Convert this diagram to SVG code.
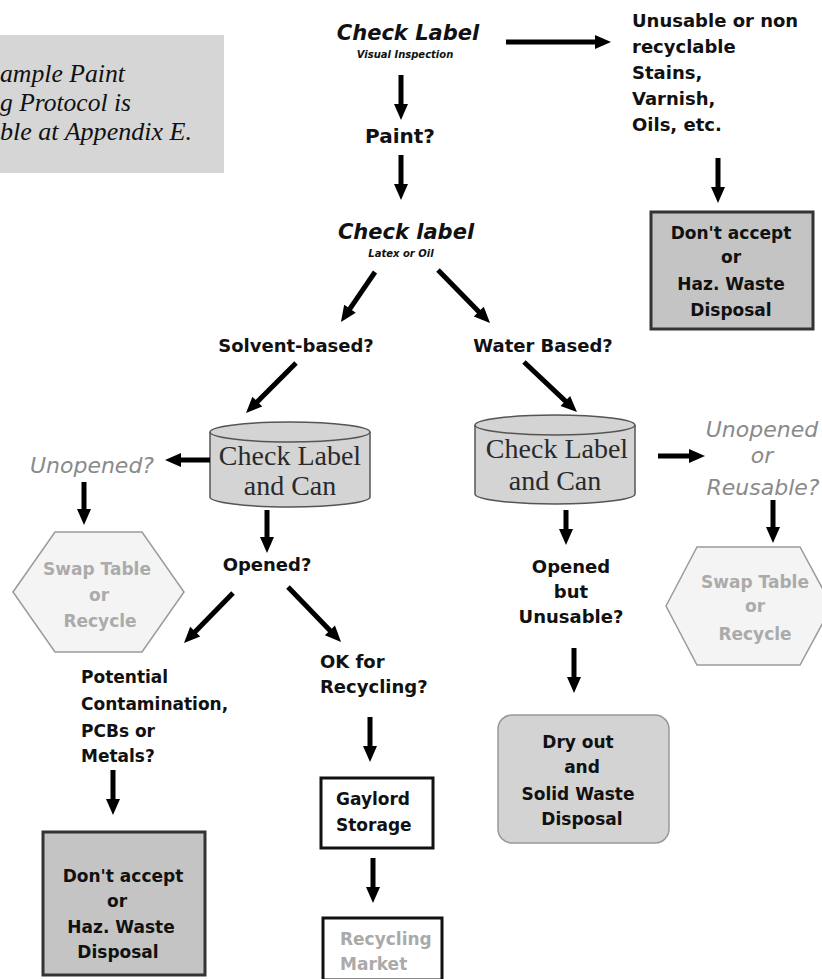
<svg xmlns="http://www.w3.org/2000/svg" width="822" height="979" viewBox="0 0 822 979">
<defs>
<marker id="ah" markerUnits="userSpaceOnUse" markerWidth="16" markerHeight="14" refX="6" refY="7" orient="auto" overflow="visible">
<path d="M0,0 L16,7 L0,14 z" fill="#000"/>
</marker>
<style>
.lbl{font-family:"DejaVu Sans","Liberation Sans",sans-serif;font-weight:bold;fill:#111;}
.it{font-style:italic;}
.c{text-anchor:middle;}
.gry{font-family:"DejaVu Sans","Liberation Sans",sans-serif;font-style:italic;fill:#8a8a8a;font-size:22px;}
.ser{font-family:"Liberation Serif","Times New Roman",serif;font-size:28px;fill:#2a2a2a;text-anchor:middle;}
.note{font-family:"Liberation Serif","Times New Roman",serif;font-style:italic;font-size:25px;fill:#111;}
.conn line{stroke:#000;stroke-width:5;marker-end:url(#ah);}
.haz{fill:#c4c4c4;stroke:#333;stroke-width:3;}
.hex{fill:#f4f4f4;stroke:#9a9a9a;stroke-width:1.5;}
.hext{font-family:"DejaVu Sans","Liberation Sans",sans-serif;font-weight:bold;fill:#ababab;font-size:17px;text-anchor:middle;}
.cyl{fill:#d4d4d4;stroke:#555;stroke-width:1.5;}
</style>
</defs>
<rect width="822" height="979" fill="#fff"/>

<g id="note">
<rect x="0" y="35" width="224" height="138" fill="#d6d6d6"/>
<text class="note" x="0" y="82" textLength="125" lengthAdjust="spacingAndGlyphs">ample Paint</text>
<text class="note" x="0" y="111" textLength="131" lengthAdjust="spacingAndGlyphs">g Protocol is</text>
<text class="note" x="0" y="140" textLength="192" lengthAdjust="spacingAndGlyphs">ble at Appendix E.</text>
</g>

<g id="check-label-visual">
<text class="lbl it c" x="408" y="40" font-size="21">Check Label</text>
<text class="lbl it c" x="405" y="58" font-size="10">Visual Inspection</text>
</g>

<g id="unusable">
<text class="lbl" x="632" y="27" font-size="18">Unusable or non</text>
<text class="lbl" x="632" y="53" font-size="18">recyclable</text>
<text class="lbl" x="632" y="79" font-size="18">Stains,</text>
<text class="lbl" x="632" y="105" font-size="18">Varnish,</text>
<text class="lbl" x="632" y="131" font-size="18">Oils, etc.</text>
</g>

<g id="haz-top">
<rect class="haz" x="651" y="212" width="162" height="117"/>
<text class="lbl c" x="731" y="239" font-size="17">Don't accept</text>
<text class="lbl c" x="731" y="263" font-size="17">or</text>
<text class="lbl c" x="731" y="290" font-size="17">Haz. Waste</text>
<text class="lbl c" x="731" y="316" font-size="17">Disposal</text>
</g>

<g id="paint">
<text class="lbl c" x="400" y="143" font-size="20">Paint?</text>
</g>

<g id="check-label-latex">
<text class="lbl it c" x="406" y="239" font-size="21">Check label</text>
<text class="lbl it c" x="401" y="257" font-size="10">Latex or Oil</text>
</g>

<g id="solvent">
<text class="lbl c" x="296" y="352" font-size="18">Solvent-based?</text>
</g>
<g id="water">
<text class="lbl c" x="543" y="352" font-size="18">Water Based?</text>
</g>

<g id="cyl-left">
<path class="cyl" d="M210,432 L210,497 A80,10 0 0 0 370,497 L370,432"/>
<ellipse class="cyl" cx="290" cy="432" rx="80" ry="10"/>
<text class="ser" x="290" y="465">Check Label</text>
<text class="ser" x="290" y="495">and Can</text>
</g>

<g id="cyl-right">
<path class="cyl" d="M475,425 L475,494 A80,10 0 0 0 635,494 L635,425"/>
<ellipse class="cyl" cx="555" cy="425" rx="80" ry="10"/>
<text class="ser" x="557" y="458">Check Label</text>
<text class="ser" x="555" y="490">and Can</text>
</g>

<g id="unopened-left">
<text class="gry c" x="92" y="473">Unopened?</text>
</g>

<g id="swap-left">
<polygon class="hex" points="13,592 55,532 142,532 184,592 142,652 55,652"/>
<text class="hext" x="97" y="575">Swap Table</text>
<text class="hext" x="99" y="601">or</text>
<text class="hext" x="100" y="627">Recycle</text>
</g>

<g id="opened">
<text class="lbl c" x="267" y="571" font-size="18">Opened?</text>
</g>

<g id="unopened-right">
<text class="gry c" x="762" y="437">Unopened</text>
<text class="gry c" x="762" y="463">or</text>
<text class="gry c" x="763" y="495">Reusable?</text>
</g>

<g id="swap-right">
<polygon class="hex" points="666,606 697,547 800,547 832,606 800,665 697,665"/>
<text class="hext" x="755" y="588">Swap Table</text>
<text class="hext" x="755" y="612">or</text>
<text class="hext" x="755" y="640">Recycle</text>
</g>

<g id="opened-unusable">
<text class="lbl c" x="571" y="573" font-size="18">Opened</text>
<text class="lbl c" x="571" y="598" font-size="18">but</text>
<text class="lbl c" x="571" y="623" font-size="18">Unusable?</text>
</g>

<g id="potential">
<text class="lbl" x="81" y="683" font-size="17">Potential</text>
<text class="lbl" x="81" y="710" font-size="17">Contamination,</text>
<text class="lbl" x="81" y="737" font-size="17">PCBs or</text>
<text class="lbl" x="81" y="762" font-size="17">Metals?</text>
</g>

<g id="ok-recycling">
<text class="lbl" x="320" y="668" font-size="18">OK for</text>
<text class="lbl" x="320" y="693" font-size="18">Recycling?</text>
</g>

<g id="haz-bottom">
<rect class="haz" x="43" y="832" width="162" height="143"/>
<text class="lbl c" x="123" y="882" font-size="17">Don't accept</text>
<text class="lbl c" x="117" y="907" font-size="17">or</text>
<text class="lbl c" x="121" y="933" font-size="17">Haz. Waste</text>
<text class="lbl c" x="118" y="958" font-size="17">Disposal</text>
</g>

<g id="gaylord">
<rect x="321" y="778" width="112" height="70" fill="#fff" stroke="#111" stroke-width="3"/>
<text class="lbl" x="336" y="805" font-size="17">Gaylord</text>
<text class="lbl" x="336" y="831" font-size="17">Storage</text>
</g>

<g id="market">
<rect x="323" y="918" width="119" height="62" fill="#fff" stroke="#111" stroke-width="3"/>
<text class="lbl" x="340" y="945" font-size="17" style="fill:#aaa">Recycling</text>
<text class="lbl" x="340" y="970" font-size="17" style="fill:#aaa">Market</text>
</g>

<g id="dry-out">
<rect x="498" y="715" width="171" height="128" rx="14" fill="#d3d3d3" stroke="#999" stroke-width="1.5"/>
<text class="lbl c" x="578" y="748" font-size="17">Dry out</text>
<text class="lbl c" x="582" y="773" font-size="17">and</text>
<text class="lbl c" x="578" y="800" font-size="17">Solid Waste</text>
<text class="lbl c" x="582" y="825" font-size="17">Disposal</text>
</g>

<g id="connectors" class="conn">
<line x1="401" y1="75" x2="401" y2="110"/>
<line x1="401" y1="155" x2="401" y2="190"/>
<line x1="375" y1="272" x2="346.6" y2="313.7"/>
<line x1="438" y1="270" x2="483" y2="315.9"/>
<line x1="506" y1="42" x2="601" y2="42"/>
<line x1="718" y1="158" x2="718" y2="193"/>
<line x1="296" y1="363" x2="253.1" y2="405.9"/>
<line x1="524" y1="362" x2="569.7" y2="405.1"/>
<line x1="210" y1="460" x2="175" y2="460"/>
<line x1="84" y1="482" x2="84" y2="515"/>
<line x1="267" y1="510" x2="267" y2="543"/>
<line x1="233" y1="593" x2="191" y2="635.9"/>
<line x1="288" y1="587" x2="334.1" y2="634.8"/>
<line x1="658" y1="456" x2="695" y2="456"/>
<line x1="773" y1="500" x2="773" y2="533"/>
<line x1="566" y1="510" x2="566" y2="535"/>
<line x1="574" y1="648" x2="574" y2="683"/>
<line x1="113" y1="770" x2="113" y2="805"/>
<line x1="370" y1="717" x2="370" y2="752"/>
<line x1="373" y1="858" x2="373" y2="893"/>
</g>
</svg>
